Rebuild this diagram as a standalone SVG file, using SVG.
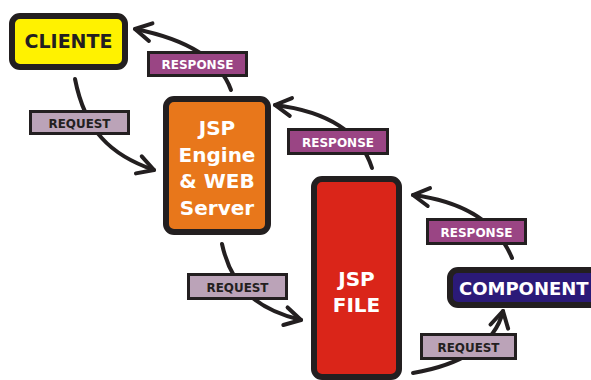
<svg xmlns="http://www.w3.org/2000/svg" width="591" height="380" viewBox="0 0 591 380">
<style>
.box{stroke:#231F20;stroke-width:6}
.node{font-family:"DejaVu Sans",Verdana,sans-serif;font-weight:bold;text-anchor:middle}
.wire{fill:none;stroke:#231F20;stroke-width:4;stroke-linecap:round}
.lbl{stroke:#231F20;stroke-width:3}
.resp{fill:#9A4584}
.req{fill:#BBA3B8}
.lt{font-family:"DejaVu Sans",Verdana,sans-serif;font-weight:bold;font-size:13px;text-anchor:middle}
</style>
<defs>
<marker id="arr" markerUnits="userSpaceOnUse" orient="auto" refX="0" refY="0" markerWidth="40" markerHeight="40" viewBox="-20 -20 40 40" overflow="visible">
<path d="M-16,-9 L0,0 L-16,9" fill="none" stroke="#231F20" stroke-width="4" stroke-linecap="round" stroke-linejoin="round"/>
</marker>
</defs>
<rect width="591" height="380" fill="#fff"/>
<g id="connectors">
<path class="wire" d="M231,90 Q215,45 135,29" marker-end="url(#arr)"/>
<path class="wire" d="M75,79 C85,130 110,155 154,170" marker-end="url(#arr)"/>
<path class="wire" d="M372,168 Q355,115 275,105" marker-end="url(#arr)"/>
<path class="wire" d="M222,244 C232,290 260,310 301,320" marker-end="url(#arr)"/>
<path class="wire" d="M512,258 Q490,205 413,195" marker-end="url(#arr)"/>
<path class="wire" d="M413,373 C460,365 495,345 503,311" marker-end="url(#arr)"/>
<g id="lbl-response-1"><rect class="lbl resp" x="148.5" y="52.5" width="98" height="23"/><text class="lt" x="197.5" y="68.5" fill="#fff" textLength="72" lengthAdjust="spacingAndGlyphs">RESPONSE</text></g>
<g id="lbl-request-1"><rect class="lbl req" x="30.5" y="111.5" width="98" height="22"/><text class="lt" x="79.5" y="127.5" fill="#231F20" textLength="62" lengthAdjust="spacingAndGlyphs">REQUEST</text></g>
<g id="lbl-response-2"><rect class="lbl resp" x="288.5" y="129.5" width="99" height="24"/><text class="lt" x="338" y="146.5" fill="#fff" textLength="72" lengthAdjust="spacingAndGlyphs">RESPONSE</text></g>
<g id="lbl-request-2"><rect class="lbl req" x="188.5" y="274.5" width="98" height="24"/><text class="lt" x="237.5" y="291.5" fill="#231F20" textLength="62" lengthAdjust="spacingAndGlyphs">REQUEST</text></g>
<g id="lbl-response-3"><rect class="lbl resp" x="427.5" y="219.5" width="98" height="24"/><text class="lt" x="476.5" y="236.5" fill="#fff" textLength="72" lengthAdjust="spacingAndGlyphs">RESPONSE</text></g>
<g id="lbl-request-3"><rect class="lbl req" x="421.5" y="334.5" width="94" height="24"/><text class="lt" x="468.5" y="351.5" fill="#231F20" textLength="62" lengthAdjust="spacingAndGlyphs">REQUEST</text></g>
</g>
<g id="cliente">
<rect class="box" x="12" y="16" width="113" height="51" rx="8" fill="#FFF200"/>
<text class="node" x="68.5" y="48" font-size="19" fill="#231F20">CLIENTE</text>
</g>
<g id="jsp-engine">
<rect class="box" x="166" y="99" width="102" height="133" rx="8" fill="#E8771B"/>
<text class="node" font-size="20" fill="#fff"><tspan x="217" y="135">JSP</tspan><tspan x="217" y="161.5">Engine</tspan><tspan x="217" y="188">&amp; WEB</tspan><tspan x="217" y="214.5">Server</tspan></text>
</g>
<g id="jsp-file">
<rect class="box" x="314" y="179" width="85" height="198" rx="8" fill="#DA2519"/>
<text class="node" font-size="20" fill="#fff"><tspan x="356.5" y="286">JSP</tspan><tspan x="356.5" y="312">FILE</tspan></text>
</g>
<g id="component">
<rect class="box" x="450" y="270" width="150" height="35" rx="8" fill="#2B1A78"/>
<text class="node" x="459" y="295" font-size="18" fill="#fff" style="text-anchor:start">COMPONENT</text>
</g>
</svg>
